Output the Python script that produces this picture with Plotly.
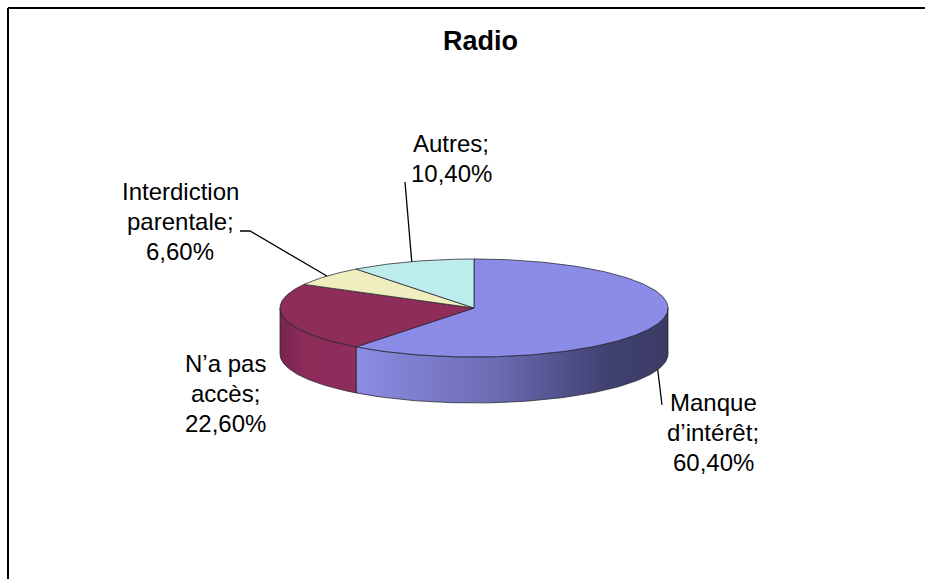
import numpy as np
import plotly.graph_objects as go

# ---------------- data ----------------
title_text = "Radio"
categories = ["Manque d’intérêt", "N’a pas accès", "Interdiction parentale", "Autres"]
label_lines = [["Manque", "d’intérêt;"], ["N’a pas", "accès;"], ["Interdiction", "parentale;"], ["Autres;"]]
values = [60.4, 22.6, 6.6, 10.4]
value_labels = ["60,40%", "22,60%", "6,60%", "10,40%"]

# ---------------- style / layout ----------------
W, H = 925, 579
CX, CY, RX, RY, DEPTH = 474, 308, 194, 49, 46
top_colors = ["#8b8be8", "#8e2c5a", "#eeeebe", "#bcecec"]
side_scales = [
    [[0, "#8c8ce4"], [0.45, "#6b6bb2"], [0.8, "#414172"], [1, "#3b3b63"]],
    [[0, "#772550"], [0.3, "#8a2b58"], [1, "#8f2d5b"]],
    [[0, "#d8d8aa"], [1, "#eeeebe"]],
    [[0, "#a8d8d8"], [1, "#bcecec"]],
]
edge = "rgba(35,35,45,0.75)"
FONT = "Liberation Sans, Arial, sans-serif"
LABEL_CENTER = [(713, 432), (225, 393), (180, 221), (451, 158)]
LEADER_PATH = {0: [(662, 405)], 2: [(250, 231), (240, 231)], 3: [(405, 182)]}
LINE_GAP = 30


def pt(theta, dy=0.0):
    t = np.radians(theta)
    return CX + RX * np.sin(t), CY - RY * np.cos(t) + dy


total = float(sum(values))
cum = np.concatenate([[0.0], np.cumsum(values)]) * 360.0 / total

fig = go.Figure()

# side walls (front half only: 90..270 deg, clockwise from 12 o'clock)
for i in range(len(values)):
    a0, a1 = max(cum[i], 90.0), min(cum[i + 1], 270.0)
    if a1 <= a0:
        continue
    th = np.linspace(a0, a1, 120)
    xt, yt = pt(th)
    xb, yb = pt(th[::-1], DEPTH)
    xs = np.concatenate([xt, xb, xt[:1]])
    ys = np.concatenate([yt, yb, yt[:1]])
    fig.add_trace(go.Scatter(
        x=xs, y=ys, mode="lines", fill="toself",
        fillgradient=dict(type="horizontal", colorscale=side_scales[i]),
        line=dict(color=edge, width=1), hoverinfo="skip", showlegend=False))

# top faces
for i in range(len(values)):
    th = np.linspace(cum[i], cum[i + 1], max(int(values[i] * 4), 10))
    xa, ya = pt(th)
    xs = np.concatenate([[CX], xa, [CX]])
    ys = np.concatenate([[CY], ya, [CY]])
    fig.add_trace(go.Scatter(
        x=xs, y=ys, mode="lines", fill="toself", fillcolor=top_colors[i],
        line=dict(color=edge, width=1), hoverinfo="skip", showlegend=False,
        name=categories[i]))

# leader lines
for i, path in LEADER_PATH.items():
    mid = (cum[i] + cum[i + 1]) / 2.0
    front = 90 < mid < 270
    sx, sy = pt(mid, DEPTH if front else 0.0)
    px = [sx] + [p[0] for p in path]
    py = [sy] + [p[1] for p in path]
    fig.add_trace(go.Scatter(x=px, y=py, mode="lines",
                             line=dict(color="black", width=1.3),
                             hoverinfo="skip", showlegend=False))

# labels
annotations = []
for i in range(len(values)):
    lines = label_lines[i] + [value_labels[i]]
    lx, ly = LABEL_CENTER[i]
    n = len(lines)
    for k, txt in enumerate(lines):
        annotations.append(dict(
            x=lx, y=ly + (k - (n - 1) / 2.0) * LINE_GAP, text=txt,
            showarrow=False, xanchor="center", yanchor="middle",
            font=dict(family=FONT, size=24, color="black")))

annotations.append(dict(x=480, y=41, text="<b>" + title_text + "</b>", showarrow=False,
                        xanchor="center", yanchor="middle",
                        font=dict(family=FONT, size=27, color="black")))

shapes = [
    dict(type="line", x0=8, y0=8, x1=W + 5, y1=8, line=dict(color="black", width=2)),
    dict(type="line", x0=8, y0=8, x1=8, y1=H + 5, line=dict(color="black", width=2)),
]

fig.update_layout(
    width=W, height=H, margin=dict(l=0, r=0, t=0, b=0),
    paper_bgcolor="white", plot_bgcolor="white",
    xaxis=dict(range=[0, W], visible=False, fixedrange=True),
    yaxis=dict(range=[H, 0], visible=False, fixedrange=True),
    annotations=annotations, shapes=shapes, showlegend=False,
)

fig.write_html(
    "out.html",
    config={"displayModeBar": False},
    post_script="document.body.style.margin='0px';document.body.style.overflow='hidden';"
                "document.documentElement.style.overflow='hidden';",
)
